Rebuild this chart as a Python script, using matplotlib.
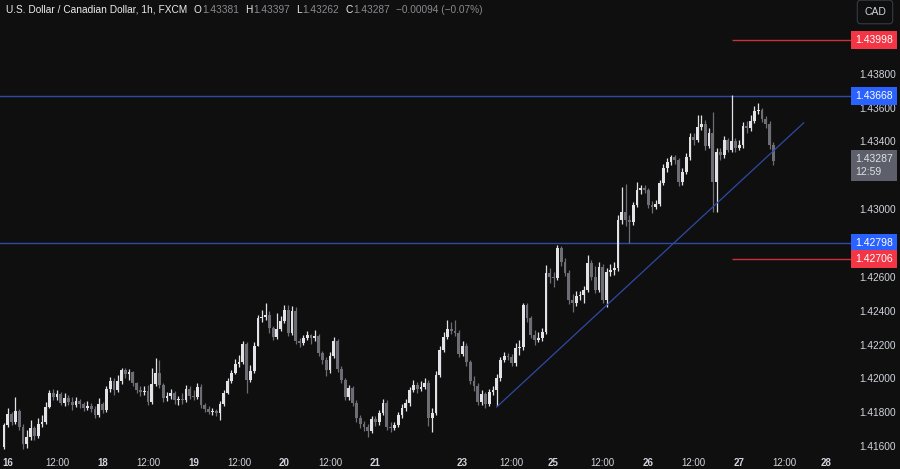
import matplotlib.pyplot as plt
import matplotlib.transforms as mtransforms
import numpy as np

plt.rcParams['font.family'] = ['Liberation Sans', 'DejaVu Sans']

BG = '#0f0f0f'
UP = '#e2e2e7'
DOWN = '#6d6d75'
TXT = '#d1d4dc'
BLUE = '#2f4aa6'
RED = '#c9323d'

# USDCAD 1h, FXCM
first_open = 1.41594
closes = [
    1.41724, 1.41789, 1.41742, 1.41807, 1.41713, 1.41612, 1.41654, 1.41707, 1.41659, 1.41730,
    1.41742, 1.41831, 1.41913, 1.41890, 1.41907, 1.41854, 1.41884, 1.41860, 1.41842, 1.41866,
    1.41848, 1.41825, 1.41836, 1.41819, 1.41783, 1.41848, 1.41813, 1.41937, 1.41984, 1.41931,
    1.41984, 1.42049, 1.42026, 1.42038, 1.41972, 1.41931, 1.41919, 1.41928, 1.41860, 1.41967,
    1.42032, 1.41961, 1.41884, 1.41896, 1.41913, 1.41872, 1.41878, 1.41870, 1.41937, 1.41896,
    1.41890, 1.41949, 1.41842, 1.41819, 1.41801, 1.41807, 1.41795, 1.41848, 1.41913, 1.41984,
    1.42032, 1.42085, 1.42097, 1.42203, 1.41990, 1.42043, 1.42191, 1.42357, 1.42363, 1.42374,
    1.42298, 1.42244, 1.42292, 1.42339, 1.42404, 1.42268, 1.42398, 1.42221, 1.42209, 1.42238,
    1.42256, 1.42238, 1.42250, 1.42150, 1.42108, 1.42049, 1.42132, 1.42221, 1.42055, 1.41990,
    1.41890, 1.41943, 1.41854, 1.41766, 1.41730, 1.41713, 1.41689, 1.41760, 1.41742, 1.41795,
    1.41854, 1.41713, 1.41707, 1.41724, 1.41783, 1.41825, 1.41854, 1.41931, 1.41961, 1.41937,
    1.41949, 1.41972, 1.41766, 1.41795, 1.42020, 1.42168, 1.42244, 1.42292, 1.42280, 1.42268,
    1.42144, 1.42191, 1.42097, 1.41984, 1.41955, 1.41860, 1.41907, 1.41848, 1.41919, 1.41931,
    1.42002, 1.42108, 1.42132, 1.42126, 1.42091, 1.42179, 1.42185, 1.42433, 1.42357, 1.42256,
    1.42227, 1.42238, 1.42274, 1.42623, 1.42599, 1.42593, 1.42770, 1.42688, 1.42623, 1.42463,
    1.42445, 1.42487, 1.42493, 1.42522, 1.42682, 1.42599, 1.42522, 1.42658, 1.42463, 1.42629,
    1.42640, 1.42652, 1.42936, 1.42983, 1.42936, 1.42924, 1.43024, 1.43113, 1.43125, 1.43113,
    1.43024, 1.43013, 1.43030, 1.43155, 1.43243, 1.43279, 1.43308, 1.43290, 1.43160, 1.43220,
    1.43308, 1.43426, 1.43409, 1.43485, 1.43503, 1.43373, 1.43450, 1.43160, 1.43338, 1.43320,
    1.43409, 1.43350, 1.43405, 1.43361, 1.43379, 1.43491, 1.43480, 1.43521, 1.43580, 1.43586,
    1.43533, 1.43503, 1.43381, 1.43287,
]
highs = [
    1.41736, 1.41825, 1.41801, 1.41890, 1.41819, 1.41730, 1.41695, 1.41754, 1.41718, 1.41766,
    1.41783, 1.41860, 1.41931, 1.41937, 1.41931, 1.41919, 1.41913, 1.41902, 1.41890, 1.41890,
    1.41878, 1.41860, 1.41866, 1.41854, 1.41836, 1.41884, 1.41860, 1.41955, 1.42008, 1.42002,
    1.42020, 1.42061, 1.42061, 1.42055, 1.42043, 1.41978, 1.41955, 1.41955, 1.41961, 1.42061,
    1.42120, 1.42108, 1.41972, 1.41919, 1.41937, 1.41925, 1.41896, 1.41913, 1.41961, 1.41955,
    1.41931, 1.41972, 1.41967, 1.41854, 1.41836, 1.41825, 1.41819, 1.41866, 1.41931, 1.42002,
    1.42049, 1.42114, 1.42138, 1.42221, 1.42215, 1.42079, 1.42215, 1.42374, 1.42404, 1.42445,
    1.42398, 1.42309, 1.42386, 1.42368, 1.42433, 1.42433, 1.42428, 1.42422, 1.42238, 1.42256,
    1.42280, 1.42262, 1.42286, 1.42262, 1.42162, 1.42126, 1.42156, 1.42244, 1.42233, 1.42073,
    1.42002, 1.41961, 1.41955, 1.41872, 1.41783, 1.41748, 1.41730, 1.41777, 1.41777, 1.41813,
    1.41878, 1.41872, 1.41742, 1.41742, 1.41801, 1.41848, 1.41878, 1.41949, 1.41990, 1.41978,
    1.41984, 1.42002, 1.41990, 1.41825, 1.42043, 1.42191, 1.42274, 1.42345, 1.42333, 1.42345,
    1.42286, 1.42221, 1.42209, 1.42108, 1.42014, 1.41972, 1.41931, 1.41919, 1.41937, 1.41955,
    1.42026, 1.42126, 1.42156, 1.42150, 1.42144, 1.42209, 1.42227, 1.42445, 1.42445, 1.42368,
    1.42286, 1.42274, 1.42298, 1.42670, 1.42652, 1.42629, 1.42788, 1.42782, 1.42711, 1.42640,
    1.42498, 1.42516, 1.42516, 1.42546, 1.42729, 1.42699, 1.42664, 1.42688, 1.42676, 1.42652,
    1.42676, 1.42688, 1.42965, 1.43131, 1.43149, 1.42965, 1.43042, 1.43160, 1.43143, 1.43143,
    1.43125, 1.43048, 1.43054, 1.43172, 1.43267, 1.43302, 1.43320, 1.43320, 1.43302, 1.43243,
    1.43332, 1.43450, 1.43450, 1.43556, 1.43556, 1.43527, 1.43480, 1.43574, 1.43361, 1.43361,
    1.43432, 1.43420, 1.43675, 1.43420, 1.43409, 1.43515, 1.43521, 1.43556, 1.43610, 1.43627,
    1.43598, 1.43550, 1.43521, 1.43397,
]
lows = [
    1.41582, 1.41713, 1.41724, 1.41730, 1.41695, 1.41582, 1.41588, 1.41636, 1.41636, 1.41648,
    1.41713, 1.41730, 1.41825, 1.41872, 1.41872, 1.41842, 1.41836, 1.41842, 1.41813, 1.41831,
    1.41825, 1.41807, 1.41813, 1.41801, 1.41766, 1.41772, 1.41795, 1.41801, 1.41919, 1.41902,
    1.41919, 1.41967, 1.42002, 1.41990, 1.41955, 1.41913, 1.41896, 1.41902, 1.41842, 1.41848,
    1.41955, 1.41943, 1.41860, 1.41866, 1.41878, 1.41848, 1.41842, 1.41848, 1.41860, 1.41878,
    1.41872, 1.41878, 1.41825, 1.41801, 1.41789, 1.41783, 1.41777, 1.41754, 1.41836, 1.41907,
    1.41972, 1.42026, 1.42067, 1.42085, 1.41913, 1.41978, 1.42032, 1.42191, 1.42333, 1.42345,
    1.42268, 1.42227, 1.42233, 1.42280, 1.42327, 1.42250, 1.42256, 1.42203, 1.42185, 1.42197,
    1.42227, 1.42203, 1.42221, 1.42132, 1.42085, 1.42014, 1.42032, 1.42120, 1.42038, 1.41972,
    1.41872, 1.41872, 1.41836, 1.41742, 1.41707, 1.41689, 1.41654, 1.41677, 1.41718, 1.41724,
    1.41783, 1.41695, 1.41683, 1.41695, 1.41713, 1.41766, 1.41807, 1.41836, 1.41919, 1.41913,
    1.41925, 1.41937, 1.41718, 1.41683, 1.41783, 1.42008, 1.42156, 1.42233, 1.42262, 1.42250,
    1.42126, 1.42132, 1.42073, 1.41967, 1.41925, 1.41842, 1.41842, 1.41825, 1.41836, 1.41902,
    1.41836, 1.41984, 1.42097, 1.42108, 1.42073, 1.42073, 1.42138, 1.42168, 1.42333, 1.42238,
    1.42197, 1.42215, 1.42221, 1.42262, 1.42564, 1.42540, 1.42581, 1.42664, 1.42605, 1.42439,
    1.42392, 1.42428, 1.42463, 1.42445, 1.42510, 1.42581, 1.42504, 1.42510, 1.42445, 1.42422,
    1.42605, 1.42611, 1.42634, 1.42912, 1.42900, 1.42800, 1.42906, 1.43013, 1.43090, 1.43095,
    1.43007, 1.42977, 1.43001, 1.43019, 1.43143, 1.43220, 1.43262, 1.43267, 1.43137, 1.43143,
    1.43208, 1.43290, 1.43379, 1.43397, 1.43468, 1.43350, 1.43361, 1.42983, 1.42983, 1.43290,
    1.43302, 1.43338, 1.43338, 1.43338, 1.43350, 1.43361, 1.43450, 1.43462, 1.43509, 1.43562,
    1.43515, 1.43480, 1.43355, 1.43262,
]

blue_levels = [1.43668, 1.42798]
red_levels = [1.43998, 1.42706]
red_start_bar = 192
trend_x = [130, 211]
trend_y = [1.41831, 1.43510]

y_ticks = [1.438, 1.436, 1.434, 1.430, 1.426, 1.424, 1.422, 1.420, 1.418, 1.416]
x_tick_pos = [1, 14, 26, 38, 50, 62, 74, 86, 98, 121, 134, 145, 158, 170, 182, 194, 206, 217]
x_tick_lab = ['16', '12:00', '18', '12:00', '19', '12:00', '20', '12:00', '21',
              '23', '12:00', '25', '12:00', '26', '12:00', '27', '12:00', '28']

last_o, last_h, last_l, last_c = 1.43381, 1.43397, 1.43262, 1.43287

# ---------------------------------------------------------------------------
fig = plt.figure(figsize=(9, 4.69), dpi=100, facecolor=BG)
ax = fig.add_axes([0, 17 / 469, 845 / 900, 452 / 469], facecolor=BG)
ax.set_xlim(-1.06, 221.9)
ax.set_ylim(1.41565, 1.44236)
for s in ax.spines.values():
    s.set_visible(False)

c = np.array(closes)
o = np.array([first_open] + closes[:-1])
hi = np.array(highs)
lo = np.array(lows)
idx = np.arange(len(c))
cols = np.where(c >= o, UP, DOWN)

ax.vlines(idx, lo, hi, colors=cols, lw=0.9, zorder=3)
body = np.maximum(np.abs(c - o), 0.00004)
ax.bar(idx, body, bottom=np.minimum(o, c), width=0.74, color=cols, lw=0, zorder=4)

for lv in blue_levels:
    ax.axhline(lv, xmax=1.008, color=BLUE, lw=1.0, zorder=2, clip_on=False)
for lv in red_levels:
    ax.hlines(lv, red_start_bar, 223.5, color=RED, lw=1.0, zorder=2, clip_on=False)
ax.plot(trend_x, trend_y, color=BLUE, lw=0.9, zorder=5)

# axes ticks
ax.yaxis.tick_right()
ax.set_yticks(y_ticks)
ax.set_yticklabels(['%.5f' % v for v in y_ticks])
ax.tick_params(axis='y', length=0, pad=10, labelsize=7.3, labelcolor=TXT)
ax.set_xticks(x_tick_pos)
ax.set_xticklabels(x_tick_lab)
ax.tick_params(axis='x', length=0, pad=4, labelsize=7, labelcolor=TXT)
for t in ax.get_xticklabels():
    if ':' not in t.get_text():
        t.set_fontweight('bold')

# price tags on the right scale
tr = mtransforms.blended_transform_factory(ax.transAxes, ax.transData)
tags = [(1.43998, '#f23645'), (1.43668, '#2962ff'), (1.42798, '#2962ff'), (1.42706, '#f23645')]
for p, col in tags:
    ax.text(1.0115, p, '%.5f' % p, transform=tr, ha='left', va='center', fontsize=7.5,
            color='white', clip_on=False, zorder=10,
            bbox=dict(boxstyle='square,pad=0.4', fc=col, ec='none'))
ax.text(1.0115, last_c - 0.00028, '%.5f\n12:59' % last_c, transform=tr, ha='left', va='center',
        fontsize=7.5, color='#e0e0e0', clip_on=False, zorder=10, linespacing=1.3,
        bbox=dict(boxstyle='square,pad=0.4', fc='#5d606b', ec='none'))

# CAD button
fig.text(875 / 900, 1 - 12 / 469, 'CAD', ha='center', va='center', fontsize=7.5, color=TXT,
         bbox=dict(boxstyle='round,pad=0.65,rounding_size=0.35', fc=BG, ec='#363a45', lw=0.8))

# legend line at the top left
r = fig.canvas.get_renderer()
x = 6
parts = [('U.S. Dollar / Canadian Dollar, 1h, FXCM', '#ececec', 6),
         ('O', '#ececec', 1), ('%.5f' % last_o, '#8a8a8f', 6),
         ('H', '#ececec', 1), ('%.5f' % last_h, '#8a8a8f', 6),
         ('L', '#ececec', 1), ('%.5f' % last_l, '#8a8a8f', 6),
         ('C', '#ececec', 1), ('%.5f' % last_c, '#8a8a8f', 6),
         ('\u22120.00094 (\u22120.07%)', '#8a8a8f', 0)]
for txt, col, gap in parts:
    t = fig.text(x / 900, 1 - 10 / 469, txt, ha='left', va='center', fontsize=7.3, color=col)
    x += t.get_window_extent(r).width + gap

fig.savefig('out.png', dpi=100, facecolor=BG)
